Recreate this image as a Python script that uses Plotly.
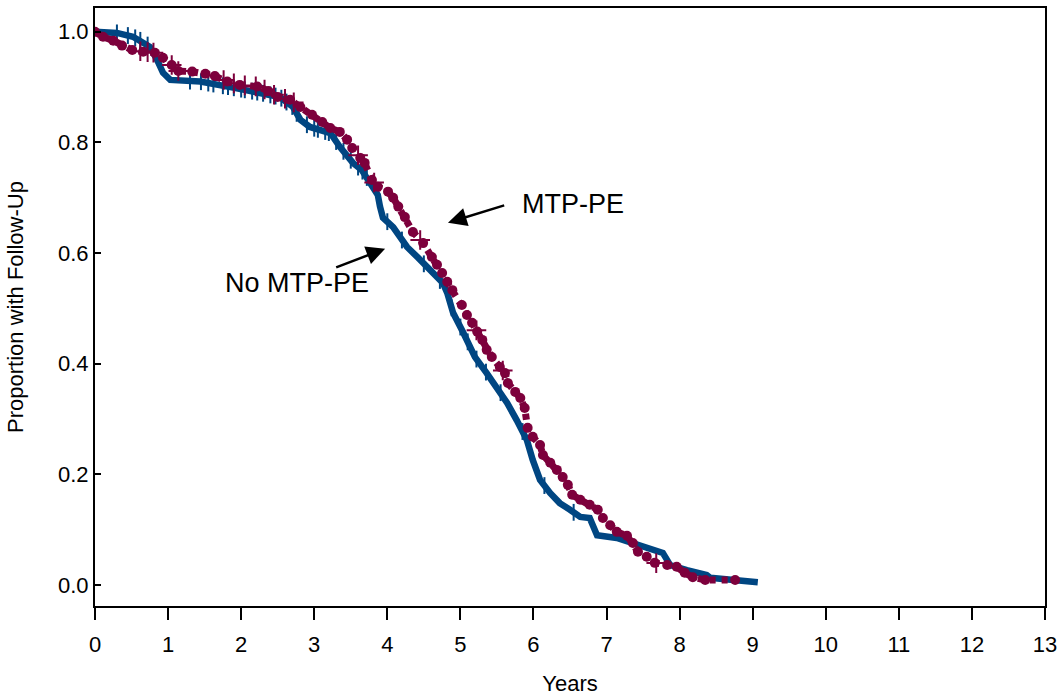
import numpy as np
import plotly.graph_objects as go

# ---- data ----
no_mtp_years = [0, 0.30, 0.52, 0.66, 0.75, 0.85, 0.93, 1.03, 1.44, 1.89, 2.26, 2.53, 2.71, 2.81,
                2.94, 3.22, 3.35, 3.53, 3.65, 3.76, 3.87, 3.90, 3.94, 4.08, 4.17, 4.27, 4.41,
                4.54, 4.68, 4.76, 4.82, 4.90, 5.04, 5.20, 5.36, 5.50, 5.64, 5.77, 5.91, 5.99,
                6.09, 6.23, 6.36, 6.50, 6.64, 6.77, 6.81, 6.87, 7.14, 7.32, 7.55, 7.77, 7.83,
                7.87, 8.10, 8.37, 8.42, 8.69, 9.07]
no_mtp_surv = [1.000, 0.998, 0.991, 0.982, 0.973, 0.949, 0.926, 0.913, 0.910, 0.899, 0.890, 0.882,
               0.864, 0.841, 0.828, 0.817, 0.792, 0.763, 0.750, 0.729, 0.705, 0.684, 0.664, 0.647,
               0.629, 0.611, 0.593, 0.575, 0.555, 0.546, 0.528, 0.492, 0.456, 0.412, 0.383, 0.358,
               0.329, 0.298, 0.262, 0.226, 0.190, 0.166, 0.148, 0.136, 0.123, 0.121, 0.105, 0.090,
               0.085, 0.078, 0.069, 0.058, 0.045, 0.036, 0.027, 0.018, 0.013, 0.009, 0.005]

mtp_years = [0, 0.11, 0.25, 0.37, 0.51, 0.66, 0.82, 0.93, 1.05, 1.14, 1.33, 1.51, 1.64, 1.81, 1.98,
             2.22, 2.37, 2.50, 2.67, 2.81, 2.97, 3.11, 3.22, 3.35, 3.45, 3.52, 3.63, 3.69, 3.79,
             3.87, 4.01, 4.08, 4.15, 4.24, 4.35, 4.49, 4.61, 4.68, 4.75, 4.82, 4.89, 5.02, 5.09,
             5.16, 5.23, 5.30, 5.36, 5.43, 5.54, 5.61, 5.65, 5.75, 5.82, 5.88, 5.92, 5.99, 6.09,
             6.13, 6.23, 6.32, 6.40, 6.47, 6.53, 6.64, 6.77, 6.88, 6.95, 7.05, 7.14, 7.28, 7.36,
             7.43, 7.55, 7.66, 7.83, 7.96, 8.07, 8.18, 8.35, 8.76]
mtp_surv = [1.000, 0.991, 0.984, 0.975, 0.967, 0.964, 0.962, 0.953, 0.940, 0.929, 0.928, 0.924,
            0.920, 0.910, 0.904, 0.901, 0.893, 0.882, 0.877, 0.864, 0.850, 0.837, 0.826, 0.819,
            0.805, 0.790, 0.772, 0.763, 0.732, 0.720, 0.711, 0.700, 0.684, 0.665, 0.638, 0.618,
            0.593, 0.579, 0.564, 0.548, 0.533, 0.506, 0.488, 0.474, 0.458, 0.443, 0.425, 0.412,
            0.394, 0.383, 0.365, 0.349, 0.338, 0.320, 0.284, 0.268, 0.253, 0.235, 0.221, 0.208,
            0.195, 0.181, 0.163, 0.154, 0.145, 0.136, 0.121, 0.108, 0.096, 0.089, 0.076, 0.060,
            0.051, 0.040, 0.036, 0.033, 0.022, 0.014, 0.009, 0.009]

# censoring times
no_mtp_censor = [0.30, 0.45, 0.55, 0.62, 0.72, 1.30, 1.45, 1.55, 1.62, 1.75, 1.82, 1.90, 2.00,
                 2.05, 2.15, 2.22, 2.30, 2.40, 2.47, 2.55, 2.62, 2.70, 2.76, 2.90, 3.00, 3.05,
                 3.15, 3.20, 3.30, 3.40, 3.50, 3.60, 3.66, 3.72, 4.00, 4.20, 4.50, 4.72, 4.88,
                 5.00, 5.10, 5.22, 5.35, 5.55, 5.85, 6.15, 6.55]
mtp_censor = [0.62, 0.72, 0.80, 1.05, 1.14, 1.76, 1.90, 2.05, 2.20, 2.32, 2.45, 2.60, 2.72,
              3.60, 3.82, 4.45, 5.22, 5.58, 7.68]

x_ticks = list(range(0, 14))
y_ticks = [0.0, 0.2, 0.4, 0.6, 0.8, 1.0]

BLUE = "#004682"
MAROON = "#7D003C"

fig = go.Figure()

fig.add_trace(go.Scatter(x=no_mtp_years, y=no_mtp_surv, mode="lines",
                         line=dict(color=BLUE, width=6.5), showlegend=False, hoverinfo="skip"))
fig.add_trace(go.Scatter(x=no_mtp_censor, y=np.interp(no_mtp_censor, no_mtp_years, no_mtp_surv),
                         mode="markers",
                         marker=dict(symbol="line-ns", size=12, line=dict(color=BLUE, width=2)),
                         showlegend=False, hoverinfo="skip"))

fig.add_trace(go.Scatter(x=mtp_years, y=mtp_surv, mode="lines+markers",
                         line=dict(color=MAROON, width=7, dash="6px,6px"),
                         marker=dict(symbol="circle", size=10, color=MAROON),
                         showlegend=False, hoverinfo="skip"))
fig.add_trace(go.Scatter(x=mtp_censor, y=np.interp(mtp_censor, mtp_years, mtp_surv),
                         mode="markers",
                         marker=dict(symbol="cross-thin", size=14, line=dict(color=MAROON, width=2)),
                         showlegend=False, hoverinfo="skip"))

# arrows
arrow_style = dict(showarrow=True, arrowhead=2, arrowsize=1.5, arrowwidth=2.5,
                   arrowcolor="black", axref="x", ayref="y", text="")
fig.add_annotation(x=4.83, y=0.655, ax=5.62, ay=0.687, **arrow_style)
fig.add_annotation(x=3.97, y=0.608, ax=3.28, ay=0.573, **arrow_style)
fig.add_annotation(x=6.54, y=0.689, text="MTP-PE", showarrow=False,
                   font=dict(size=27, color="black"))
fig.add_annotation(x=2.76, y=0.546, text="No MTP-PE", showarrow=False,
                   font=dict(size=27, color="black"))

fig.update_xaxes(range=[0, 13], tickvals=x_ticks, ticktext=[str(t) for t in x_ticks],
                 ticks="outside", ticklen=12, tickwidth=2, tickcolor="black",
                 ticklabelstandoff=6, automargin=False,
                 showline=True, linecolor="black", linewidth=2, mirror=True,
                 showgrid=False, zeroline=False,
                 tickfont=dict(size=22, color="black"),
                 title=dict(text="Years", font=dict(size=22, color="black"), standoff=22))
fig.update_yaxes(range=[-0.038, 1.043], tickvals=y_ticks, ticktext=[f"{t:.1f}" for t in y_ticks],
                 ticks="inside", ticklen=6, tickwidth=2, tickcolor="black",
                 automargin=False,
                 showline=True, linecolor="black", linewidth=2, mirror=True,
                 showgrid=False, zeroline=False,
                 tickfont=dict(size=22, color="black"),
                 title=dict(text="Proportion with Follow-Up", font=dict(size=22, color="black"),
                            standoff=28))

fig.update_layout(width=1060, height=696, margin=dict(l=95, r=15, t=8, b=90),
                  paper_bgcolor="white", plot_bgcolor="white",
                  font=dict(family="Liberation Sans, Arial, sans-serif", color="black"))

fig.write_html("out.html")
